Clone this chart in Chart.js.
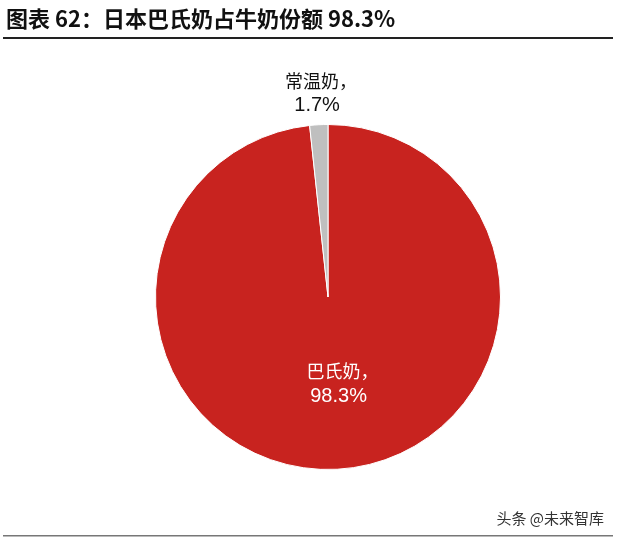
<!DOCTYPE html>
<html>
<head>
<meta charset="utf-8">
<script src="https://cdn.jsdelivr.net/npm/chart.js@4"></script>
<style>
  html, body { margin: 0; padding: 0; background: #fff; }
  #wrap { position: relative; width: 618px; height: 539px; }
</style>
</head>
<body>
<div id="wrap"><canvas id="myChart" width="618" height="539"></canvas></div>
<script>
// Données
const categories = ['巴氏奶', '常温奶'];
const shares = [98.3, 1.7];
const colors = ['#C8231F', '#BFBFBF'];
const titleText = '图表 62：日本巴氏奶占牛奶份额 98.3%';
const sourceText = '头条 @未来智库';

const CJK = '"Noto Sans CJK SC", "Liberation Sans", sans-serif';

// Titre, lignes et étiquettes
const decor = {
    id: 'decor',
    afterDraw(chart) {
        const ctx = chart.ctx;
        ctx.save();
        // titre
        ctx.fillStyle = '#111';
        ctx.font = 'bold 22px ' + CJK;
        ctx.textBaseline = 'alphabetic';
        ctx.textAlign = 'left';
        ctx.fillText(titleText, 6, 27);
        ctx.fillStyle = '#222';
        ctx.fillRect(3, 37, 610, 2);
        // ligne du bas
        ctx.fillStyle = '#777';
        ctx.fillRect(3, 535, 610, 1.5);
        // source
        ctx.fillStyle = '#333';
        ctx.font = '15px ' + CJK;
        ctx.textAlign = 'right';
        ctx.fillText(sourceText, 604, 524);

        // étiquettes des parts
        const meta = chart.getDatasetMeta(0);
        meta.data.forEach((arc, i) => {
            const mid = (arc.startAngle + arc.endAngle) / 2;
            let x, y, col;
            if (shares[i] < 5) {
                const r = arc.outerRadius + 32;
                x = arc.x + Math.cos(mid) * r;
                y = arc.y + Math.sin(mid) * r;
                col = '#111';
            } else {
                const r = arc.outerRadius * 0.5;
                x = arc.x + Math.cos(mid) * r + 6;
                y = arc.y + Math.sin(mid) * r;
                col = '#fff';
            }
            ctx.fillStyle = col;
            ctx.textAlign = 'center';
            ctx.textBaseline = 'middle';
            ctx.font = '18px ' + CJK;
            ctx.fillText(categories[i] + '，', x + 4, y - 12);
            ctx.font = '20px "Liberation Sans", Arial, sans-serif';
            ctx.fillText(shares[i].toFixed(1) + '%', x, y + 13);
        });
        ctx.restore();
    }
};

const config = {
    type: 'pie',
    data: {
        labels: categories,
        datasets: [{
            data: shares,
            backgroundColor: colors,
            borderColor: '#ffffff',
            borderWidth: 1,
        }]
    },
    options: {
        responsive: false,
        animation: false,
        layout: {
            padding: { top: 124, bottom: 69, left: 155, right: 117 }
        },
        plugins: {
            legend: { display: false },
            tooltip: { enabled: false },
            title: { display: false }
        }
    },
    plugins: [decor]
};

var myChart = new Chart(document.getElementById('myChart'), config);
</script>
</body>
</html>
